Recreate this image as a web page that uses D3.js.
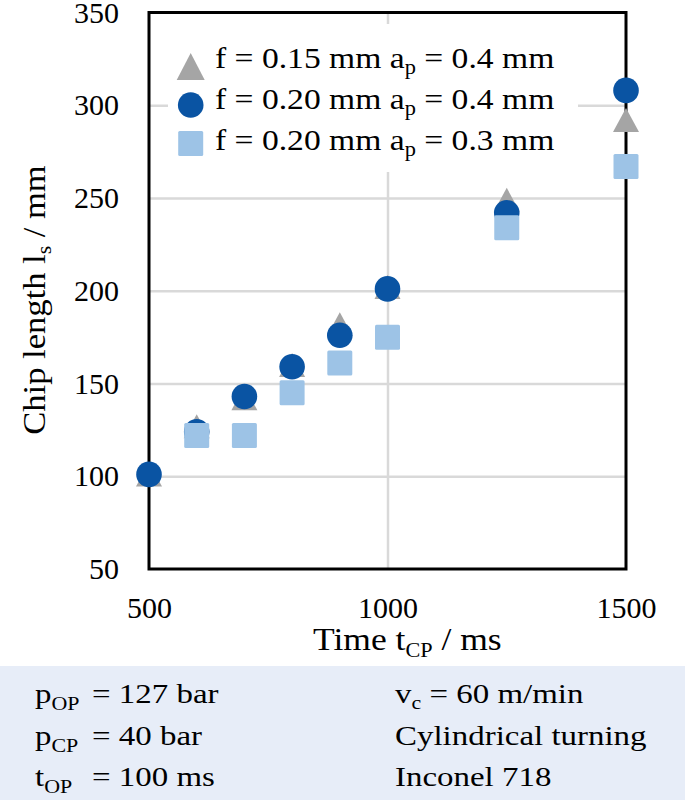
<!DOCTYPE html>
<html>
<head>
<meta charset="utf-8">
<script src="https://cdn.jsdelivr.net/npm/d3@7"></script>
<style>
  html, body { margin: 0; padding: 0; background: #ffffff; }
  svg text { white-space: pre; }
</style>
</head>
<body>
<svg id="chart" width="685" height="800"></svg>
<script>
// ---------- data ----------
const times = [500, 600, 700, 800, 900, 1000, 1250, 1500];
const chipTriangle = [101, 127, 142, 160, 182, 202, 249, 292];   // f = 0.15 mm, ap = 0.4 mm
const chipCircle   = [101, 124, 143, 159, 176, 201, 242, 308];   // f = 0.20 mm, ap = 0.4 mm
const chipSquare   = [null, 122, 122, 145, 161, 175, 234, 267];  // f = 0.20 mm, ap = 0.3 mm
const legendMain = ["f = 0.15 mm a", "f = 0.20 mm a", "f = 0.20 mm a"];
const legendRest = [" = 0.4 mm", " = 0.4 mm", " = 0.3 mm"];
const yTicks = [50, 100, 150, 200, 250, 300, 350];
const yGrid = [100, 150, 200, 250, 300];
const xTicks = [500, 1000, 1500];
const xGrid = [1000];
const infoLeftSym = [["p", "OP"], ["p", "CP"], ["t", "OP"]];
const infoLeftVal = ["= 127 bar", "= 40 bar", "= 100 ms"];
const infoRight = ["v|c| = 60 m/min", "Cylindrical turning", "Inconel 718"];

// ---------- setup ----------
const FONT = "'Liberation Serif', 'Times New Roman', serif";
const colTri = "#a5a5a5", colCir = "#0a54a3", colSq = "#9dc3e6";
const svg = d3.select("#chart").style("font-family", FONT);

const x = d3.scaleLinear().domain([500, 1500]).range([149, 626]);
const y = d3.scaleLinear().domain([50, 350]).range([569, 12.5]);
const L = x.range()[0], R = x.range()[1], T = y.range()[1], B = y.range()[0];
const fmt = d3.format("d");

// gridlines
svg.append("g").attr("transform", `translate(${L},0)`)
  .call(d3.axisLeft(y).tickValues(yGrid).tickSize(-(R - L)).tickFormat(""))
  .call(g => g.select(".domain").remove())
  .call(g => g.selectAll("line").attr("stroke", "#d9d9d9").attr("stroke-width", 2.5));
svg.append("g").attr("transform", `translate(0,${B})`)
  .call(d3.axisBottom(x).tickValues(xGrid).tickSize(-(B - T)).tickFormat(""))
  .call(g => g.select(".domain").remove())
  .call(g => g.selectAll("line").attr("stroke", "#d9d9d9").attr("stroke-width", 2.5));

// legend background (covers gridlines)
svg.append("rect").attr("x", 168).attr("y", 24).attr("width", 410).attr("height", 148).attr("fill", "#ffffff");

// plot border
svg.append("rect").attr("x", L).attr("y", T).attr("width", R - L).attr("height", B - T)
  .attr("fill", "none").attr("stroke", "#000").attr("stroke-width", 3);

// tick labels
svg.append("g").attr("transform", `translate(${L},0)`)
  .call(d3.axisLeft(y).tickValues(yTicks).tickSize(0).tickPadding(30).tickFormat(fmt))
  .call(g => g.select(".domain").remove())
  .call(g => g.selectAll("text").attr("font-size", 30).attr("font-family", FONT).attr("fill", "#000"));
svg.append("g").attr("transform", `translate(0,${B})`)
  .call(d3.axisBottom(x).tickValues(xTicks).tickSize(0).tickPadding(27.5).tickFormat(fmt))
  .call(g => g.select(".domain").remove())
  .call(g => g.selectAll("text").attr("font-size", 30).attr("font-family", FONT).attr("fill", "#000"));

// marker shapes
const triPath = (w, h) => `M0,${-h/2}L${w/2},${h/2}L${-w/2},${h/2}Z`;
function drawTri(g, cx, cy, w, h) {
  g.append("path").attr("d", triPath(w, h)).attr("transform", `translate(${cx},${cy})`).attr("fill", colTri);
}
function drawCir(g, cx, cy, r) {
  g.append("circle").attr("cx", cx).attr("cy", cy).attr("r", r).attr("fill", colCir);
}
function drawSq(g, cx, cy, s) {
  g.append("rect").attr("x", cx - s/2).attr("y", cy - s/2).attr("width", s).attr("height", s)
    .attr("rx", 1.5).attr("fill", colSq);
}

// data points
const pts = svg.append("g");
times.forEach((t, i) => { if (chipTriangle[i] != null) drawTri(pts, x(t), y(chipTriangle[i]), 26, 24); });
times.forEach((t, i) => { if (chipCircle[i] != null) drawCir(pts, x(t), y(chipCircle[i]), 12.8); });
times.forEach((t, i) => { if (chipSquare[i] != null) drawSq(pts, x(t), y(chipSquare[i]), 25); });

// legend
const leg = svg.append("g");
const legMarkerY = [66.5, 105, 143.5];
const legTextY = [68, 108.5, 149.5];
drawTri(leg, 190.7, legMarkerY[0], 28, 27);
drawCir(leg, 190.7, legMarkerY[1], 12.8);
drawSq(leg, 190.7, legMarkerY[2], 25);
legendMain.forEach((m, i) => {
  const t = leg.append("text").attr("transform", `translate(215,${legTextY[i]}) scale(1.12,1)`)
    .attr("font-size", 30).attr("fill", "#000");
  t.append("tspan").text(m);
  t.append("tspan").attr("font-size", 20).attr("dy", 6).text("p");
  t.append("tspan").attr("font-size", 30).attr("dy", -6).text(legendRest[i]);
});

// axis titles
const yt = svg.append("text").attr("transform", "translate(45,300) rotate(-90) scale(1.08,1)")
  .attr("text-anchor", "middle").attr("font-size", 32).attr("fill", "#000");
yt.append("tspan").text("Chip length l");
yt.append("tspan").attr("font-size", 20).attr("dy", 6).text("s");
yt.append("tspan").attr("font-size", 32).attr("dy", -6).text(" / mm");

const xt = svg.append("text").attr("transform", "translate(313,650) scale(1.11,1)")
  .attr("font-size", 32).attr("fill", "#000");
xt.append("tspan").text("Time t");
xt.append("tspan").attr("font-size", 20).attr("dy", 7).text("CP");
xt.append("tspan").attr("font-size", 32).attr("dy", -7).text(" / ms");

// info panel
svg.append("rect").attr("x", 0).attr("y", 666).attr("width", 685).attr("height", 134).attr("fill", "#e7edf8");
const rowY = [703, 745, 786];
const SX = 1.22;
infoLeftSym.forEach((s, i) => {
  const t = svg.append("text").attr("transform", `translate(35,${rowY[i]}) scale(${SX},1)`)
    .attr("font-size", 27).attr("fill", "#000");
  t.append("tspan").text(s[0]);
  t.append("tspan").attr("font-size", 18).attr("dy", 7).text(s[1]);
  svg.append("text").attr("transform", `translate(92,${rowY[i]}) scale(${SX},1)`)
    .attr("font-size", 27).attr("fill", "#000").text(infoLeftVal[i]);
});
infoRight.forEach((s, i) => {
  const t = svg.append("text").attr("transform", `translate(395,${rowY[i]}) scale(${SX},1)`)
    .attr("font-size", 27).attr("fill", "#000");
  const parts = s.split("|");
  if (parts.length === 3) {
    t.append("tspan").text(parts[0]);
    t.append("tspan").attr("font-size", 18).attr("dy", 6).text(parts[1]);
    t.append("tspan").attr("font-size", 27).attr("dy", -6).text(parts[2]);
  } else {
    t.text(s);
  }
});
</script>
</body>
</html>
